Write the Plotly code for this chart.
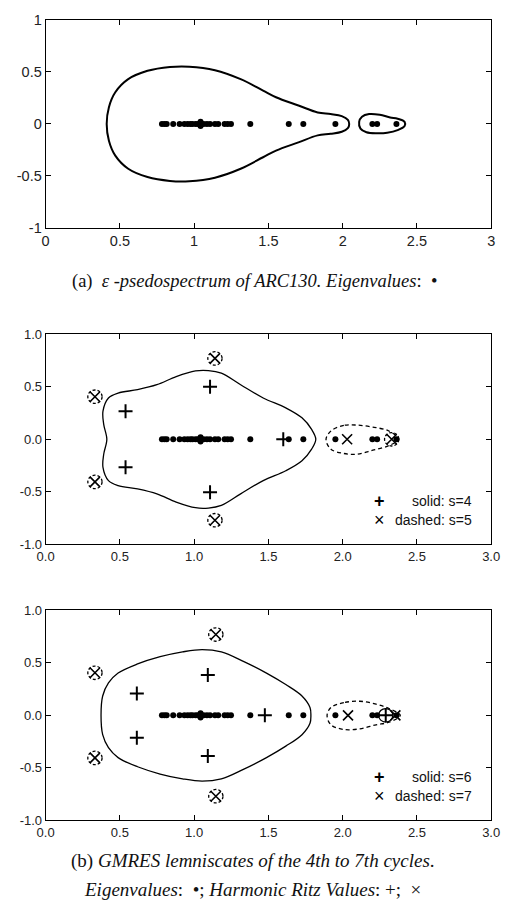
import plotly.graph_objects as go

# ---------------- data ----------------
eig_x = [0.783, 0.80, 0.815, 0.859, 0.902, 0.934, 0.956, 0.975, 0.989, 1.01, 1.025,
         1.043, 1.043, 1.043, 1.064, 1.086, 1.107, 1.14, 1.162, 1.205, 1.226, 1.248,
         1.378, 1.637, 1.735, 1.951, 2.20, 2.232, 2.362]
eig_y = [0, 0, 0, 0, 0, 0, 0, 0, 0, 0, 0,
         0, 0.02, -0.02, 0, 0, 0, 0, 0, 0, 0, 0,
         0, 0, 0, 0, 0, 0, 0]

# (a) pseudospectrum boundary
ps1_x = [0.967, 0.837, 0.686, 0.556, 0.469, 0.426, 0.411, 0.426, 0.469, 0.556, 0.686, 0.837,
         0.967, 1.14, 1.313, 1.464, 1.551, 1.702, 1.832, 1.919, 1.994, 2.035, 2.044, 2.035,
         1.994, 1.919, 1.832, 1.702, 1.551, 1.464, 1.313, 1.14, 0.967]
ps1_y = [0.55, 0.547, 0.51, 0.43, 0.304, 0.161, 0.0, -0.161, -0.304, -0.43, -0.51, -0.547,
         -0.55, -0.516, -0.43, -0.32, -0.256, -0.177, -0.11, -0.095, -0.075, -0.04, 0.0, 0.04,
         0.075, 0.095, 0.11, 0.177, 0.256, 0.32, 0.43, 0.516, 0.55]
ps2_x = [2.25, 2.178, 2.13, 2.111, 2.12, 2.16, 2.23, 2.30, 2.37, 2.417, 2.417, 2.37, 2.32, 2.25]
ps2_y = [0.088, 0.095, 0.07, 0.02, -0.045, -0.08, -0.09, -0.085, -0.06, -0.02, 0.02, 0.05, 0.062, 0.088]

# (b) s=4 solid lemniscate
l4_x = [1.096, 1.009, 0.879, 0.749, 0.619, 0.488, 0.423, 0.386, 0.391, 0.412, 0.391, 0.386,
        0.423, 0.488, 0.619, 0.749, 0.879, 1.009, 1.096, 1.183, 1.313, 1.465, 1.617, 1.726,
        1.791, 1.819, 1.791, 1.726, 1.617, 1.465, 1.313, 1.183, 1.096]
l4_y = [0.654, 0.651, 0.597, 0.519, 0.472, 0.44, 0.393, 0.267, 0.142, 0.0, -0.142, -0.267,
        -0.393, -0.44, -0.472, -0.519, -0.597, -0.651, -0.654, -0.629, -0.519, -0.393, -0.299, -0.204,
        -0.094, 0.0, 0.094, 0.204, 0.299, 0.393, 0.519, 0.629, 0.654]
# s=5 dashed lemniscate (main part)
l5_x = [2.095, 2.008, 1.921, 1.888, 1.921, 2.008, 2.095, 2.203, 2.311, 2.377, 2.311, 2.203, 2.095]
l5_y = [0.135, 0.132, 0.079, 0.0, -0.094, -0.135, -0.142, -0.104, -0.06, 0.0, 0.079, 0.116, 0.135]
# small dashed components (centres)
c5_x = [1.14, 1.14, 0.332, 0.332, 2.33]
c5_y = [0.77, -0.77, 0.405, -0.405, 0.0]
# harmonic Ritz values
r4_x = [0.538, 0.538, 1.107, 1.107, 1.60]
r4_y = [0.267, -0.267, 0.50, -0.503, 0.0]
r5_x = [1.14, 1.14, 0.332, 0.332, 2.03, 2.33]
r5_y = [0.77, -0.77, 0.405, -0.405, 0.0, 0.0]

# (b) s=6 solid lemniscate
l6_x = [1.053, 0.922, 0.771, 0.619, 0.488, 0.423, 0.384, 0.373, 0.384, 0.423, 0.488, 0.619,
        0.771, 0.922, 1.053, 1.183, 1.335, 1.487, 1.617, 1.726, 1.78, 1.786, 1.78, 1.726,
        1.617, 1.487, 1.335, 1.183, 1.053]
l6_y = [0.626, 0.604, 0.558, 0.489, 0.402, 0.308, 0.184, 0.0, -0.184, -0.308, -0.402, -0.489,
        -0.558, -0.604, -0.626, -0.604, -0.511, -0.402, -0.293, -0.184, -0.075, 0.0, 0.075, 0.184,
        0.293, 0.402, 0.511, 0.604, 0.626]
# s=7 dashed lemniscate
l7_x = [2.116, 2.008, 1.921, 1.895, 1.921, 2.008, 2.116, 2.225, 2.312, 2.388, 2.312, 2.225, 2.116]
l7_y = [0.134, 0.121, 0.075, 0.0, -0.09, -0.134, -0.128, -0.09, -0.065, 0.0, 0.065, 0.106, 0.134]
c6_x = [2.29]
c6_y = [0.0]
c7_x = [1.146, 1.146, 0.332, 0.332]
c7_y = [0.769, -0.769, 0.405, -0.405]
r6_x = [0.614, 0.614, 1.092, 1.092, 1.476, 2.29]
r6_y = [0.209, -0.212, 0.383, -0.386, 0.0, 0.0]
r7_x = [1.146, 1.146, 0.332, 0.332, 2.036, 2.355]
r7_y = [0.769, -0.769, 0.405, -0.405, 0.0, 0.0]

xticks = [0, 0.5, 1, 1.5, 2, 2.5, 3]
xtext_a = ["0", "0.5", "1", "1.5", "2", "2.5", "3"]
yticks = [-1, -0.5, 0, 0.5, 1]
ytext_a = ["-1", "-0.5", "0", "0.5", "1"]
xtext_b = ["0.0", "0.5", "1.0", "1.5", "2.0", "2.5", "3.0"]
ytext_b = ["-1.0", "-0.5", "0.0", "0.5", "1.0"]

# ---------------- figure ----------------
W, H = 505, 911
fig = go.Figure()

def px_to_paper_y(py):
    return 1 - py / H

x_dom = [38 / W, 500 / W]
panels = [  # (xaxis, yaxis, top_px, bottom_px)
    ("x", "y", 12, 224),
    ("x2", "y2", 332, 546),
    ("x3", "y3", 613, 827),
]

def line(xs, ys, ax, dash="solid", width=1.6):
    fig.add_trace(go.Scatter(x=xs, y=ys, mode="lines", xaxis=ax[0], yaxis=ax[1],
                             line=dict(color="black", width=width, dash=dash, shape="spline", smoothing=1.0),
                             showlegend=False, hoverinfo="skip"))

def pts(xs, ys, ax, symbol, size, lw=0):
    fig.add_trace(go.Scatter(x=xs, y=ys, mode="markers", xaxis=ax[0], yaxis=ax[1],
                             marker=dict(symbol=symbol, size=size, color="black",
                                         line=dict(color="black", width=lw)),
                             showlegend=False, hoverinfo="skip"))

A = ("x", "y")
B = ("x2", "y2")
C = ("x3", "y3")

# panel (a)
line(ps1_x, ps1_y, A, width=2)
line(ps2_x, ps2_y, A, width=2)
pts(eig_x, eig_y, A, "circle", 6)

# panel (b) top
line(l4_x, l4_y, B, width=1.3)
line(l5_x, l5_y, B, dash="4px,3px", width=1.3)
pts(eig_x, eig_y, B, "circle", 6)
pts(r4_x, r4_y, B, "cross-thin", 10, 2)
pts(r5_x, r5_y, B, "x-thin", 10, 1.6)

# panel (b) bottom
line(l6_x, l6_y, C, width=1.3)
line(l7_x, l7_y, C, dash="4px,3px", width=1.3)
pts(eig_x, eig_y, C, "circle", 6)
pts(r6_x, r6_y, C, "cross-thin", 10, 2)
pts(r7_x, r7_y, C, "x-thin", 10, 1.6)

shapes = []
RX, RY = 0.048, 0.064
def small_circles(cx, cy, ax, dash):
    for x, y in zip(cx, cy):
        shapes.append(dict(type="circle", xref=ax[0], yref=ax[1],
                           x0=x - RX, x1=x + RX, y0=y - RY, y1=y + RY,
                           line=dict(color="black", width=1.3, dash=dash)))
small_circles(c5_x, c5_y, B, "3px,2px")
small_circles(c7_x, c7_y, C, "3px,2px")
small_circles(c6_x, c6_y, C, "solid")

axis_common = dict(showgrid=False, zeroline=False, showline=True, linecolor="black", linewidth=1,
                   mirror="ticks", ticks="inside", ticklen=5, tickcolor="black",
                   ticklabeloverflow="allow")

layout = dict(width=W, height=H, margin=dict(l=0, r=0, t=0, b=0),
              paper_bgcolor="white", plot_bgcolor="white", shapes=shapes)
for i, (xa, ya, top, bot) in enumerate(panels):
    xk = "xaxis" if i == 0 else f"xaxis{i+1}"
    yk = "yaxis" if i == 0 else f"yaxis{i+1}"
    fs = 14.5 if i == 0 else 13
    xt = xtext_a if i == 0 else xtext_b
    yt = ytext_a if i == 0 else ytext_b
    ac = dict(axis_common)
    ac["tickfont"] = dict(family="Liberation Sans, Arial", color="#222", size=fs)
    layout[xk] = dict(ac, domain=x_dom, range=[0, 3], tickvals=xticks, ticktext=xt,
                      anchor=ya)
    layout[yk] = dict(ac, domain=[px_to_paper_y(bot), px_to_paper_y(top)], range=[-1, 1],
                      tickvals=yticks, ticktext=yt, anchor=xa)
fig.update_layout(**layout)

serif = "Liberation Serif, Times New Roman, serif"
sans = "Liberation Sans, Arial, sans-serif"
ann = []
ann.append(dict(x=0.505, y=px_to_paper_y(278), xref="paper", yref="paper", showarrow=False,
                xanchor="center", yanchor="middle",
                text="(a)  <i>ε -psedospectrum of ARC130. Eigenvalues</i>:  •",
                font=dict(family=serif, size=18.5, color="#111")))
ann.append(dict(x=0.5, y=px_to_paper_y(868), xref="paper", yref="paper", showarrow=False,
                xanchor="center", yanchor="middle",
                text="(b) <i>GMRES lemniscates of the 4th to 7th cycles</i>.",
                font=dict(family=serif, size=19, color="#111")))
ann.append(dict(x=0.5, y=px_to_paper_y(897), xref="paper", yref="paper", showarrow=False,
                xanchor="center", yanchor="middle",
                text="<i>Eigenvalues</i>:  •; <i>Harmonic Ritz Values</i>: +;  ×",
                font=dict(family=serif, size=19, color="#111")))

legend_rows = [(B, "solid: s=4", "dashed: s=5"), (C, "solid: s=6", "dashed: s=7")]
for ax, t1, t2 in legend_rows:
    for yv, txt, sym in [(-0.589, t1, "+"), (-0.766, t2, "×")]:
        ann.append(dict(x=2.885, y=yv, xref=ax[0], yref=ax[1], showarrow=False,
                        xanchor="right", yanchor="middle", text=txt,
                        font=dict(family=sans, size=14, color="#111")))
        ann.append(dict(x=2.245, y=yv, xref=ax[0], yref=ax[1], showarrow=False,
                        xanchor="center", yanchor="middle", text="<b>" + sym + "</b>" if sym == "+" else sym,
                        font=dict(family=sans, size=18, color="black")))
fig.update_layout(annotations=ann)

fig.write_html("out.html")
